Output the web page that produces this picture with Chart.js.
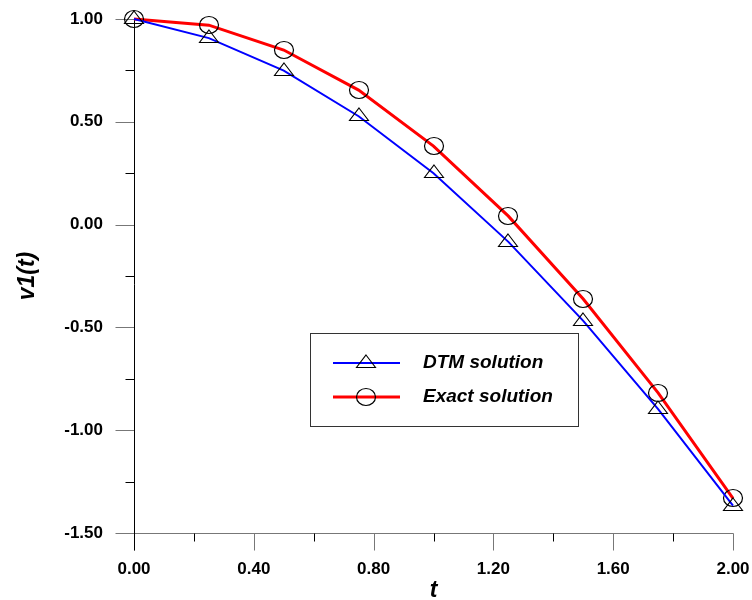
<!DOCTYPE html>
<html>
<head>
<meta charset="utf-8">
<style>
  html, body { margin: 0; padding: 0; background: #fff; }
  #wrap { width: 752px; height: 600px; position: relative; }
</style>
<script src="https://cdn.jsdelivr.net/npm/chart.js@4/dist/chart.umd.min.js"></script>
</head>
<body>
<div id="wrap"><canvas id="c" width="752" height="600"></canvas></div>
<script>
// Sample times and the two solutions v1(t)
const tValues       = [0, 0.25, 0.5, 0.75, 1.0, 1.25, 1.5, 1.75, 2.0];
const dtmSolution   = [1.0, 0.907, 0.749, 0.527, 0.250, -0.084, -0.468, -0.897, -1.367];
const exactSolution = [1.0, 0.970, 0.849, 0.654, 0.382, 0.041, -0.362, -0.818, -1.332];
const seriesNames   = ['DTM solution', 'Exact solution'];

// Axis ticks (labelled majors and unlabelled minors)
const xMajorTicks = [0, 0.4, 0.8, 1.2, 1.6, 2.0];
const xMinorTicks = [0.2, 0.6, 1.0, 1.4, 1.8];
const yMajorTicks = [-1.5, -1.0, -0.5, 0, 0.5, 1.0];
const yMinorTicks = [-1.25, -0.75, -0.25, 0.25, 0.75];

// Open marker glyphs: flat triangle (centroid at image centre) and slightly squat circle
function makeTriangle() {
  const c = document.createElement('canvas');
  c.width = 22; c.height = 20;
  const g = c.getContext('2d');
  g.strokeStyle = '#000'; g.lineWidth = 1.1;
  const cx = 11, cy = 10;
  g.beginPath();
  g.moveTo(cx, cy - 8);
  g.lineTo(cx + 9.5, cy + 4.5);
  g.lineTo(cx - 9.5, cy + 4.5);
  g.closePath();
  g.stroke();
  return c;
}
function makeCircle() {
  const c = document.createElement('canvas');
  c.width = 22; c.height = 20;
  const g = c.getContext('2d');
  g.strokeStyle = '#000'; g.lineWidth = 1.2;
  g.beginPath();
  g.ellipse(11, 10, 9.5, 8.5, 0, 0, Math.PI * 2);
  g.stroke();
  return c;
}
const triangleMark = makeTriangle();
const circleMark = makeCircle();

const toPoints = (ys) => tValues.map((t, i) => ({ x: t, y: ys[i] }));

// Axis lines and tick marks, drawn from the chart's own scales
const axesPlugin = {
  id: 'axesPlugin',
  beforeDatasetsDraw(chart) {
    const { ctx, scales: { x, y } } = chart;
    const x0 = Math.round(x.getPixelForValue(0)) + 0.5;
    const yb = Math.round(y.getPixelForValue(-1.5)) + 0.5;
    ctx.save();
    ctx.lineWidth = 1;
    // y ticks
    ctx.strokeStyle = '#777';
    yMajorTicks.forEach(v => {
      const py = Math.round(y.getPixelForValue(v)) + 0.5;
      ctx.beginPath(); ctx.moveTo(x0 - 19, py); ctx.lineTo(x0, py); ctx.stroke();
    });
    ctx.strokeStyle = '#000';
    yMinorTicks.forEach(v => {
      const py = Math.round(y.getPixelForValue(v)) + 0.5;
      ctx.beginPath(); ctx.moveTo(x0 - 9, py); ctx.lineTo(x0, py); ctx.stroke();
    });
    // x axis line and ticks
    ctx.strokeStyle = '#777';
    ctx.beginPath(); ctx.moveTo(x0, yb); ctx.lineTo(Math.round(x.getPixelForValue(2)) + 0.5, yb); ctx.stroke();
    xMajorTicks.forEach(v => {
      const px = Math.round(x.getPixelForValue(v)) + 0.5;
      ctx.beginPath(); ctx.moveTo(px, yb); ctx.lineTo(px, yb + 17); ctx.stroke();
    });
    ctx.strokeStyle = '#000';
    xMinorTicks.forEach(v => {
      const px = Math.round(x.getPixelForValue(v)) + 0.5;
      ctx.beginPath(); ctx.moveTo(px, yb); ctx.lineTo(px, yb + 8); ctx.stroke();
    });
    // y axis line
    ctx.beginPath();
    ctx.moveTo(x0, Math.round(y.getPixelForValue(1.0)));
    ctx.lineTo(x0, yb + 17);
    ctx.stroke();
    ctx.restore();
    // keep the marker glyphs crisp at fractional positions
    ctx.imageSmoothingEnabled = false;
  }
};

// Boxed legend inside the plot area
const boxLegend = {
  id: 'boxLegend',
  afterDatasetsDraw(chart) {
    const { ctx, chartArea: a } = chart;
    const left = a.left + 176, top = a.top + 314, w = 268, h = 93;
    ctx.save();
    ctx.fillStyle = '#fff';
    ctx.fillRect(left, top, w, h);
    ctx.strokeStyle = '#333';
    ctx.lineWidth = 1;
    ctx.strokeRect(left + 0.5, top + 0.5, w, h);
    chart.data.datasets.forEach((ds, i) => {
      const cy = top + 30 + i * 34;
      ctx.strokeStyle = ds.borderColor;
      ctx.lineWidth = ds.borderWidth;
      ctx.beginPath(); ctx.moveTo(left + 23, cy); ctx.lineTo(left + 90, cy); ctx.stroke();
      const img = ds.pointStyle;
      ctx.drawImage(img, Math.round(left + 56 - img.width / 2), Math.round(cy - img.height / 2));
      ctx.fillStyle = '#000';
      ctx.font = 'italic bold 19px "Liberation Sans", Arial, sans-serif';
      ctx.textBaseline = 'middle';
      ctx.textAlign = 'left';
      ctx.fillText(ds.label, left + 113, cy);
    });
    ctx.restore();
  }
};

const tickFont = { family: '"Liberation Sans", Arial, sans-serif', size: 17, weight: 'bold' };
const titleFont = { family: '"Liberation Sans", Arial, sans-serif', size: 23, weight: 'bold', style: 'italic' };

new Chart(document.getElementById('c'), {
  type: 'line',
  data: {
    datasets: [
      {
        label: seriesNames[0],
        data: toPoints(dtmSolution),
        borderColor: '#0000ff',
        borderWidth: 2,
        pointStyle: triangleMark,
        pointBorderColor: '#000',
        pointBackgroundColor: 'rgba(0,0,0,0)',
        tension: 0,
        clip: false
      },
      {
        label: seriesNames[1],
        data: toPoints(exactSolution),
        borderColor: '#ff0000',
        borderWidth: 3,
        pointStyle: circleMark,
        pointBorderColor: '#000',
        pointBackgroundColor: 'rgba(0,0,0,0)',
        tension: 0,
        clip: false
      }
    ]
  },
  options: {
    responsive: false,
    animation: false,
    events: [],
    layout: { padding: { top: 19, right: 19, left: 0, bottom: 0 } },
    plugins: { legend: { display: false }, tooltip: { enabled: false } },
    scales: {
      x: {
        type: 'linear',
        min: 0, max: 2,
        afterBuildTicks: (s) => { s.ticks = xMajorTicks.map(v => ({ value: v })); },
        afterFit: (s) => { s.height = 67; s.paddingLeft = 0; s.paddingRight = 0; },
        grid: { display: false, drawTicks: false },
        border: { display: false },
        ticks: {
          padding: 26,
          color: '#000',
          font: tickFont,
          callback: (v) => Number(v).toFixed(2),
          maxRotation: 0, autoSkip: false
        },
        title: {
          display: true,
          text: 't',
          color: '#000',
          padding: 0,
          font: Object.assign({}, titleFont, { lineHeight: 0.8 })
        }
      },
      y: {
        type: 'linear',
        min: -1.5, max: 1.0,
        afterBuildTicks: (s) => { s.ticks = yMajorTicks.map(v => ({ value: v })); },
        afterFit: (s) => { s.width = 134; s.paddingTop = 0; s.paddingBottom = 0; },
        grid: { display: false, drawTicks: false },
        border: { display: false },
        ticks: {
          padding: 31,
          color: '#000',
          font: tickFont,
          callback: (v) => Number(v).toFixed(2),
          autoSkip: false
        },
        title: {
          display: true,
          text: 'v1(t)',
          color: '#000',
          padding: { top: 14, bottom: 0 },
          font: titleFont
        }
      }
    }
  },
  plugins: [axesPlugin, boxLegend]
});
</script>
</body>
</html>
